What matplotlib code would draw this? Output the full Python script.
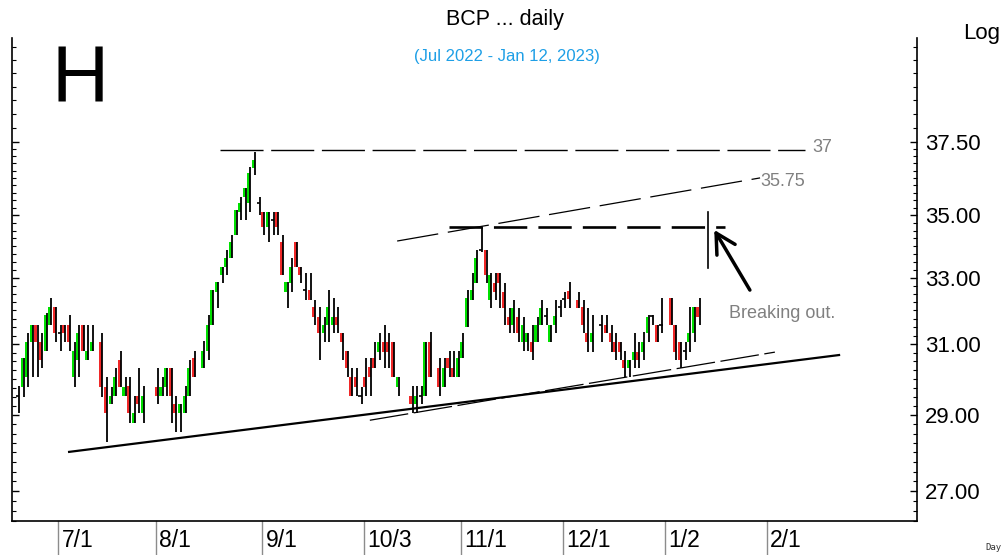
import numpy as np
import pandas as pd
import matplotlib
matplotlib.use("Agg")
import matplotlib.pyplot as plt
from matplotlib.ticker import FixedLocator, NullFormatter, FormatStrFormatter

plt.rcParams['lines.scale_dashes'] = False
plt.rcParams['font.family'] = ['Liberation Sans', 'DejaVu Sans']

# ---------------- data ----------------
start_date = '2022-06-20'
N = np.nan
opens = [29.52, 29.77, 30.06, 31.06, 31.56, 31.06, 30.80, 31.56, 32.10, 31.33,
         31.56, 31.56, 30.06, 30.54, 31.56, 30.54, 30.80, N, 31.06, 29.77,
         29.30, 29.52, 30.54, 29.52, 29.80, 28.78, 29.52, 29.05, N, N,
         29.77, 29.52, 29.77, 30.31, 29.30, 29.05, 29.05, 29.52, 30.60, N,
         30.31, 30.80, 31.56, 32.56, 33.09, 33.34, 33.62, 34.36, 35.11, 35.61,
         35.41, 36.60, 35.41, 35.11, 34.62, 34.84, 35.11, 34.13, 32.56, 32.84,
         34.13, 33.34, 32.62, 32.62, 32.10, 31.80, 31.33, 31.56, 31.56, 31.80,
         31.33, 30.80, 30.06, 30.06, 29.52, 30.06, 30.33, 30.60, 30.77, 31.06,
         31.06, 31.06, 29.77, N, N, 29.52, 29.30, 29.52, 29.52, 31.06,
         N, 30.31, 29.77, 30.60, 30.31, 30.06, 30.60, 31.50, 32.32, 32.84,
         33.87, 33.87, 32.32, 32.84, 33.15, 32.56, 31.80, 31.56, 31.80, 31.06,
         31.06, 31.06, 31.06, 31.56, 31.83, 31.06, 31.56, 32.10, 32.35, 32.59,
         N, 32.32, 32.10, 31.33, 31.06, N, 31.56, 31.56, 31.33, 31.06,
         31.06, 30.54, 30.31, 30.54, 30.77, 30.77, 31.33, 31.83, 31.56, 31.56,
         N, 32.38, 31.56, 31.06, 30.80, 31.06, 31.33, 32.10]
highs = [29.80, 30.60, 31.33, 31.56, 31.56, 31.33, 31.91, 32.38, 32.10, 31.56,
         31.56, 31.86, 31.06, 31.56, 31.56, 31.56, 31.56, N, 31.33, 30.06,
         29.77, 30.31, 30.80, 30.06, 30.06, 29.52, 30.31, 29.80, N, N,
         30.31, 30.06, 30.31, 30.31, 29.52, 29.30, 29.80, 30.54, 30.80, N,
         31.10, 31.86, 32.62, 32.87, 33.34, 33.87, 34.36, 35.17, 35.61, 35.91,
         36.63, 37.15, 35.61, 35.11, 35.11, 35.11, 35.11, 34.36, 32.87, 33.62,
         34.13, 33.34, 33.15, 33.15, 32.32, 32.10, 31.80, 32.62, 32.38, 32.10,
         31.33, 30.80, 30.31, 30.31, 29.77, 30.60, 30.60, 31.06, 31.33, 31.56,
         31.33, 31.06, 30.06, N, N, 29.80, 29.80, 29.80, 31.06, 31.36,
         N, 30.60, 30.60, 30.80, 30.80, 30.80, 31.33, 32.62, 33.15, 33.87,
         34.62, 33.87, 33.15, 33.15, 33.15, 32.84, 32.07, 32.32, 32.07, 31.80,
         31.33, 31.56, 31.80, 32.32, 32.07, 31.56, 32.32, 32.32, 32.56, 32.87,
         N, 32.56, 32.32, 32.07, 31.86, N, 31.86, 31.86, 31.56, 31.33,
         31.06, 30.80, 30.54, 31.33, 31.06, 31.36, 31.86, 31.86, 31.56, 32.38,
         N, 32.38, 31.56, 31.06, 31.06, 32.10, 32.10, 32.38]
lows = [29.05, 29.50, 29.77, 30.06, 30.06, 30.31, 30.80, 31.56, 31.06, 30.80,
        31.06, 30.80, 29.77, 30.06, 30.80, 30.54, 30.80, N, 29.50, 28.27,
        29.30, 29.52, 29.77, 29.52, 28.78, 28.78, 29.05, 28.78, N, N,
        29.30, 29.52, 29.52, 28.78, 28.54, 28.54, 29.05, 29.52, 30.06, N,
        30.31, 30.54, 31.56, 32.07, 32.84, 33.09, 33.62, 34.36, 34.84, 34.84,
        35.11, 36.35, 35.00, 34.36, 34.13, 34.36, 34.36, 33.09, 32.07, 32.56,
        33.34, 32.84, 32.32, 32.32, 31.56, 30.54, 31.06, 31.06, 31.33, 31.33,
        30.54, 30.06, 29.52, 29.52, 29.30, 29.52, 29.52, 30.31, 30.54, 30.31,
        30.31, 30.06, 29.52, N, N, 29.07, 29.07, 29.30, 29.52, 30.06,
        N, 29.52, 29.77, 30.06, 30.06, 30.06, 30.60, 31.50, 32.32, 32.84,
        33.81, 32.84, 32.07, 32.32, 32.07, 31.56, 31.33, 31.33, 31.06, 30.80,
        30.80, 30.54, 31.06, 31.56, 31.56, 31.06, 31.33, 31.80, 32.07, 32.07,
        N, 32.07, 31.33, 30.77, 30.77, N, 31.06, 31.33, 30.77, 30.54,
        30.54, 30.06, 30.06, 30.31, 30.31, 30.54, 31.06, 31.56, 31.06, 31.33,
        N, 31.56, 30.54, 30.31, 30.54, 30.77, 31.06, 31.56]
closes = [29.55, 30.60, 31.06, 31.56, 31.06, 30.54, 31.86, 32.10, 31.33, 31.33,
          31.33, 31.06, 30.80, 31.33, 30.80, 30.80, 31.06, N, 29.77, 29.05,
          29.52, 30.06, 29.77, 29.77, 29.05, 29.05, 29.30, 29.52, N, N,
          29.52, 29.77, 30.31, 29.52, 29.05, 29.30, 29.52, 30.31, 30.06, N,
          30.80, 31.56, 32.62, 32.87, 33.34, 33.62, 34.13, 35.17, 35.41, 35.91,
          36.42, 36.87, 35.41, 34.62, 35.11, 34.84, 34.62, 33.09, 32.87, 33.34,
          33.34, 33.09, 32.62, 32.32, 31.80, 31.33, 31.56, 32.10, 31.80, 31.56,
          31.06, 30.31, 29.52, 29.77, 29.52, 29.77, 30.06, 30.31, 31.06, 30.77,
          30.77, 30.06, 30.06, N, N, 29.30, 29.52, 29.52, 31.06, 30.06,
          N, 29.77, 30.31, 30.31, 30.06, 30.60, 31.06, 32.38, 32.62, 33.62,
          33.93, 33.09, 33.09, 32.56, 32.84, 32.07, 31.56, 32.07, 31.33, 31.56,
          31.33, 30.77, 31.56, 32.07, 31.83, 31.56, 31.83, 32.10, 32.35, 32.35,
          N, 32.07, 31.56, 31.06, 31.33, N, 31.56, 31.33, 31.06, 30.77,
          30.77, 30.31, 30.54, 30.77, 30.54, 31.06, 31.80, 31.83, 31.06, 31.56,
          N, 31.56, 30.77, 30.54, 30.80, 31.33, 32.10, 31.80]

month_dates = ['2022-07-01', '2022-08-01', '2022-09-01', '2022-10-03',
               '2022-11-01', '2022-12-01', '2023-01-02', '2023-02-01']
month_labels = ['7/1', '8/1', '9/1', '10/3', '11/1', '12/1', '1/2', '2/1']

price_ticks = [27.0, 29.0, 31.0, 33.0, 35.0, 37.5]

# ---------------- figure ----------------
fig = plt.figure(figsize=(10.04, 5.55), dpi=100)
ax = fig.add_axes([12/1004, 1-521/555, (917-12)/1004, (521-38)/555])
ax.set_yscale('log')

GREEN = '#00e000'
RED = '#f02828'
for i, (o, h, l, c) in enumerate(zip(opens, highs, lows, closes)):
    if np.isnan(o):
        continue
    if abs(c - o) < 0.065:
        ax.hlines(o, i - 0.65, i + 0.05, color='black', lw=1.2, zorder=3)
    else:
        ax.bar(i - 0.33, abs(c - o), bottom=min(o, c), width=0.62,
               color=GREEN if c > o else RED, lw=0, zorder=2)
    ax.vlines(i + 0.02, l, h, color='black', lw=1.3, zorder=3)

# trend / annotation lines
ax.plot([10.6, 177.4], [28.01, 30.69], color='black', lw=1.6, solid_capstyle='butt')
ax.plot([75.8, 163.3], [28.86, 30.77], color='black', lw=0.9, dashes=(28, 4))
ax.plot([43.4, 169.8], [37.22, 37.22], color='black', lw=1.0, dashes=(31, 5.5))
ax.plot([81.7, 160.1], [34.16, 36.25], color='black', lw=0.9, dashes=(30, 7))
ax.plot([92.9, 152.5], [34.62, 34.62], color='black', lw=1.9, dashes=(24, 8))
ax.plot([148.9, 148.9], [33.30, 35.11], color='black', lw=1.2)
ax.annotate('', xy=(150.2, 34.52), xytext=(157.9, 32.62),
            arrowprops=dict(arrowstyle='->,head_length=0.7,head_width=0.38',
                            lw=2.5, color='black', mutation_scale=20,
                            shrinkA=0, shrinkB=0))

GRAY = '#808080'
ax.text(171.3, 37.3, '37', color=GRAY, fontsize=13, va='center', ha='left')
ax.text(160.1, 36.13, '35.75', color=GRAY, fontsize=13, va='center', ha='left')
ax.text(153.4, 31.92, 'Breaking out.', color=GRAY, fontsize=13, va='center', ha='left')

# axes ranges
ax.set_xlim(-1.5, 194.0)
ax.set_ylim(26.25, 41.35)

# y ticks
minor = [v for v in np.arange(26.25, 37.5, 0.25) if v not in price_ticks] + \
        list(np.arange(38.0, 41.5, 0.5))
ax.yaxis.set_major_locator(FixedLocator(price_ticks))
ax.yaxis.set_minor_locator(FixedLocator(minor))
ax.yaxis.set_major_formatter(FormatStrFormatter('%.2f'))
ax.yaxis.set_minor_formatter(NullFormatter())
ax.tick_params(axis='y', which='both', left=True, right=True, labelleft=False,
               labelright=True, direction='in', color='black')
ax.tick_params(axis='y', which='major', length=5, width=1, pad=6, labelsize=16)
ax.tick_params(axis='y', which='minor', length=3, width=0.8)

ax.set_xticks([])
for s in ['left', 'right', 'bottom']:
    ax.spines[s].set_linewidth(1.2)
    ax.spines[s].set_color('black')
ax.spines['top'].set_visible(False)

# month separators and labels
ext = pd.bdate_range(start_date, '2023-03-31')
trans = ax.get_xaxis_transform()
for d, lab in zip(month_dates, month_labels):
    p = ext.get_loc(pd.Timestamp(d)) - 0.5
    ax.plot([p, p], [0, -0.075], transform=trans, color='#8c8c8c', lw=1.0,
            clip_on=False)
    ax.text(p + 0.8, -0.040, lab, transform=trans, ha='left', va='center',
            fontsize=16.5)

# headings
fig.text(505/1004, 1-20/555, 'BCP ... daily', ha='center', va='center', fontsize=15.5)
fig.text(507/1004, 1-56/555, '(Jul 2022 - Jan 12, 2023)', ha='center', va='center',
         fontsize=12, color='#1e9fe6')
fig.text(52/1004, 1-102/555, 'H', ha='left', va='baseline', fontsize=57)
fig.text(1000/1004, 1-33/555, 'Log', ha='right', va='center', fontsize=16)
fig.text(1002/1004, 1-548/555, 'Day', ha='right', va='center', fontsize=6.5,
         family='DejaVu Sans Mono', color='#333333')

fig.savefig('out.png', dpi=100)
